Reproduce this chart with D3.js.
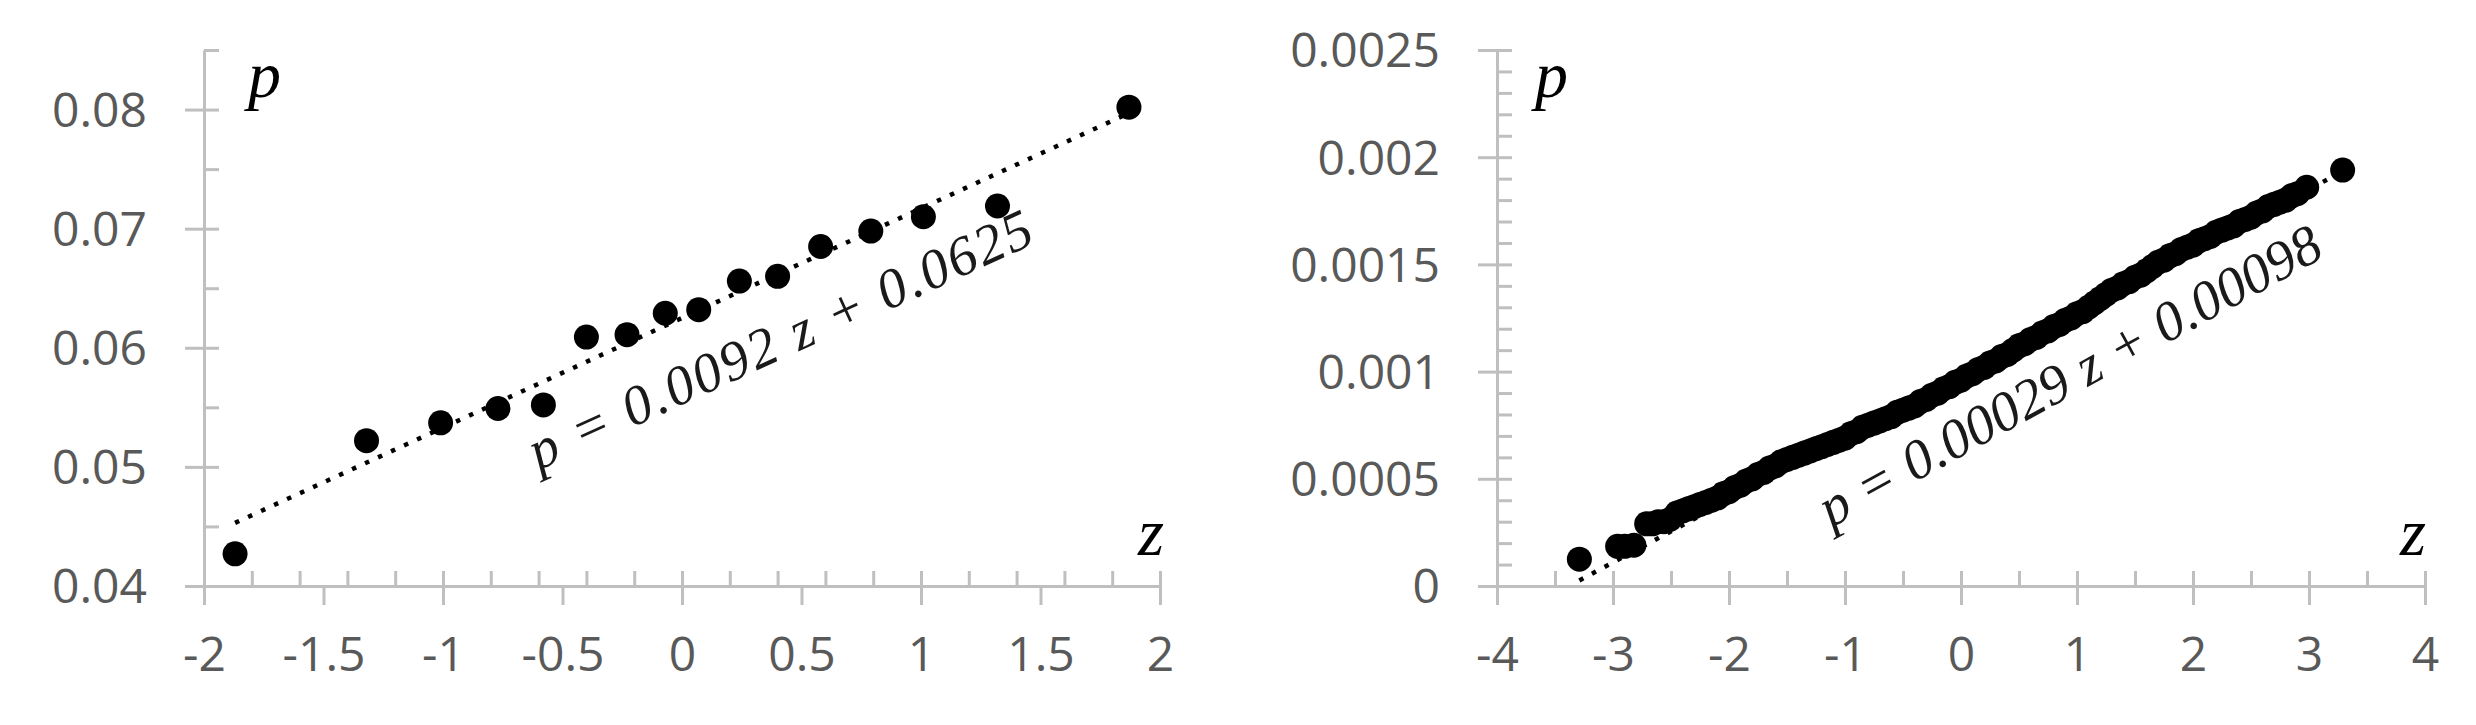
<!DOCTYPE html>
<html>
<head>
<meta charset="utf-8">
<script src="https://cdn.jsdelivr.net/npm/d3@7"></script>
<style>
  body { margin: 0; background: #ffffff; }
  svg { display: block; }
</style>
</head>
<body>
<svg id="chart"></svg>
<script>
// ---- left panel: 16 points ----
const leftZ = [-1.87, -1.32, -1.01, -0.77, -0.58, -0.40, -0.23, -0.07, 0.07, 0.24, 0.40, 0.58, 0.79, 1.01, 1.32, 1.87];
const leftP = [0.0427, 0.0522, 0.0537, 0.0549, 0.0552, 0.0609, 0.0611, 0.0629, 0.0632, 0.0656, 0.0660, 0.0685, 0.0698, 0.0710, 0.0719, 0.0802];
const leftFit = [0.0092, 0.0625]; // slope, intercept
const leftXTicks = [-2, -1.5, -1, -0.5, 0, 0.5, 1, 1.5, 2];
const leftXLabels = ["-2", "-1.5", "-1", "-0.5", "0", "0.5", "1", "1.5", "2"];
const leftYTicks = [0.04, 0.05, 0.06, 0.07, 0.08];
const leftYLabels = ["0.04", "0.05", "0.06", "0.07", "0.08"];
const leftEquation = "p = 0.0092 z + 0.0625";

// ---- right panel: many points, read along the band ----
const rightZ = [-3.29, -2.96, -2.90, -2.82, -2.71, -2.66, -2.61, -2.56, -2.51,
  -2.45, -2.40, -2.35, -2.30, -2.25, -2.20, -2.15, -2.10, -2.05, -2.00, -1.95, -1.90, -1.85, -1.80, -1.75, -1.70, -1.65, -1.60, -1.55, -1.50,
  -1.45, -1.40, -1.35, -1.30, -1.25, -1.20, -1.15, -1.10, -1.05, -1.00, -0.95, -0.90, -0.85, -0.80, -0.75, -0.70, -0.65, -0.60, -0.55, -0.50,
  -0.45, -0.40, -0.35, -0.30, -0.25, -0.20, -0.15, -0.10, -0.05, 0.00, 0.05, 0.10, 0.15, 0.20, 0.25, 0.30, 0.35, 0.40, 0.45, 0.50,
  0.55, 0.60, 0.65, 0.70, 0.75, 0.80, 0.85, 0.90, 0.95, 1.00, 1.05, 1.10, 1.15, 1.20, 1.25, 1.30, 1.35, 1.40, 1.45, 1.50,
  1.55, 1.60, 1.65, 1.70, 1.75, 1.80, 1.85, 1.90, 1.95, 2.00, 2.05, 2.10, 2.15, 2.20, 2.25, 2.30, 2.35, 2.40, 2.45, 2.50,
  2.55, 2.60, 2.65, 2.70, 2.75, 2.80, 2.85, 2.90, 2.98, 3.29];
const rightP = [0.000125, 0.000185, 0.000185, 0.00019, 0.00029, 0.00029, 0.00030, 0.00030, 0.00031,
  0.00034, 0.00035, 0.00036, 0.00037, 0.00038, 0.00039, 0.00040, 0.00041, 0.00043, 0.00044, 0.00046, 0.00047, 0.00049, 0.00050, 0.00052, 0.00053, 0.00055, 0.00056, 0.00058, 0.00059,
  0.00060, 0.00061, 0.00062, 0.00063, 0.00064, 0.00065, 0.00066, 0.00067, 0.00068, 0.00069, 0.00071, 0.00072, 0.00074, 0.00075, 0.00076, 0.00077, 0.00078, 0.00079, 0.00081, 0.00082,
  0.00083, 0.00084, 0.00086, 0.00087, 0.00089, 0.00090, 0.00092, 0.00093, 0.00095, 0.00096, 0.00098, 0.00099, 0.00101, 0.00102, 0.00104, 0.00105, 0.00107, 0.00108, 0.00110, 0.00112,
  0.00113, 0.00115, 0.00116, 0.00118, 0.00119, 0.00121, 0.00122, 0.00124, 0.00125, 0.00127, 0.00128, 0.00130, 0.00132, 0.00134, 0.00136, 0.00138, 0.00139, 0.00141, 0.00142, 0.00144,
  0.00145, 0.00147, 0.00149, 0.00151, 0.00152, 0.00154, 0.00155, 0.00157, 0.00158, 0.00159, 0.00161, 0.00162, 0.00163, 0.00165, 0.00166, 0.00167, 0.00168, 0.00170, 0.00171, 0.00172,
  0.00174, 0.00175, 0.00177, 0.00178, 0.00179, 0.00180, 0.00182, 0.00183, 0.00186, 0.00194];
const rightFit = [0.00029, 0.00098];
const rightXTicks = [-4, -3, -2, -1, 0, 1, 2, 3, 4];
const rightXLabels = ["-4", "-3", "-2", "-1", "0", "1", "2", "3", "4"];
const rightYTicks = [0, 0.0005, 0.001, 0.0015, 0.002, 0.0025];
const rightYLabels = ["0", "0.0005", "0.001", "0.0015", "0.002", "0.0025"];
const rightEquation = "p = 0.00029 z + 0.00098";

const width = 2476;
const height = 725;
const axisColor = "#bfbfbf";
const labelColor = "#595959";
const tickFont = "'Open Sans', 'Liberation Sans', sans-serif";
const mathFont = "'Liberation Serif', 'DejaVu Serif', serif";

const svg = d3.select("#chart")
    .attr("width", width)
    .attr("height", height)
    .attr("viewBox", [0, 0, width, height]);

svg.append("rect")
    .attr("width", width)
    .attr("height", height)
    .attr("fill", "#ffffff");

const drawPanel = (cfg) => {
    const x = d3.scaleLinear(cfg.xDomain, cfg.xRange);
    const y = d3.scaleLinear(cfg.yDomain, cfg.yRange);
    const g = svg.append("g");

    //minor ticks go inside, major ticks cross the axis
    const styleAxis = a => {
        a.selectAll("path, line").attr("stroke", axisColor).attr("stroke-width", 3);
        a.selectAll("text")
            .attr("fill", labelColor)
            .style("font-family", tickFont)
            .style("font-size", "48px");
    };

    g.append("g")
        .attr("transform", `translate(0,${cfg.yRange[0]})`)
        .call(d3.axisBottom(x).tickValues(x.ticks(cfg.xMinor)).tickSize(-15).tickSizeOuter(0).tickFormat(""))
        .call(styleAxis);
    g.append("g")
        .attr("transform", `translate(0,${cfg.yRange[0]})`)
        .call(d3.axisBottom(x).tickValues(cfg.xTicks).tickSize(19).tickSizeOuter(0).tickPadding(32)
            .tickFormat((d, i) => cfg.xLabels[i]))
        .call(styleAxis)
        .call(a => a.select(".domain").remove());

    g.append("g")
        .attr("transform", `translate(${cfg.xRange[0]},0)`)
        .call(d3.axisRight(y).tickValues(y.ticks(cfg.yMinor)).tickSize(15).tickSizeOuter(0).tickFormat(""))
        .call(styleAxis);
    g.append("g")
        .attr("transform", `translate(${cfg.xRange[0]},0)`)
        .call(d3.axisLeft(y).tickValues(cfg.yTicks).tickSize(19).tickSizeOuter(0).tickPadding(38)
            .tickFormat((d, i) => cfg.yLabels[i]))
        .call(styleAxis)
        .call(a => a.select(".domain").remove())
        .call(a => a.selectAll("text").attr("dy", "0.35em"));

    //points
    g.append("g")
        .selectAll("circle")
        .data(d3.range(cfg.z.length))
        .join("circle")
        .attr("cx", i => x(cfg.z[i]))
        .attr("cy", i => y(cfg.p[i]))
        .attr("r", 12.5)
        .attr("fill", "#000");

    //dotted trend line over the data range
    const z0 = d3.min(cfg.z), z1 = d3.max(cfg.z);
    const fit = z => cfg.fit[0] * z + cfg.fit[1];
    g.append("line")
        .attr("x1", x(z0)).attr("y1", y(fit(z0)))
        .attr("x2", x(z1)).attr("y2", y(fit(z1)))
        .attr("stroke", "#000")
        .attr("stroke-width", 4.5)
        .attr("stroke-dasharray", "4.5 9.8");

    //equation, rotated along the trend line
    const ex = x(cfg.eqAt[0]), ey = y(cfg.eqAt[1]);
    g.append("text")
        .attr("transform", `translate(${ex},${ey}) rotate(${cfg.eqAngle})`)
        .attr("fill", "#1a1a1a")
        .style("font-family", mathFont)
        .style("font-style", "italic")
        .style("font-size", "56px")
        .attr("textLength", cfg.eqLength)
        .attr("lengthAdjust", "spacing")
        .text(cfg.equation);

    //axis names
    g.append("text")
        .attr("x", cfg.xRange[0] + cfg.pOffset)
        .attr("y", 97)
        .style("font-family", mathFont)
        .style("font-style", "italic")
        .style("font-size", "66px")
        .attr("fill", "#000")
        .text("p");
    g.append("text")
        .attr("x", cfg.xRange[1] - cfg.zOffset)
        .attr("y", 555)
        .style("font-family", mathFont)
        .style("font-style", "italic")
        .style("font-size", "67px")
        .attr("fill", "#000")
        .text("z");
};

drawPanel({
    z: leftZ, p: leftP, fit: leftFit,
    xDomain: [-2, 2], xRange: [204, 1160],
    yDomain: [0.04, 0.085], yRange: [586, 50],
    xTicks: leftXTicks, xLabels: leftXLabels, xMinor: 16,
    yTicks: leftYTicks, yLabels: leftYLabels, yMinor: 9,
    equation: leftEquation, eqAt: [-0.6, 0.0497], eqLength: 548, eqAngle: -24.6,
    pOffset: 44, zOffset: 22
});

drawPanel({
    z: rightZ, p: rightP, fit: rightFit,
    xDomain: [-4, 4], xRange: [1497, 2425],
    yDomain: [0, 0.0025], yRange: [586, 50],
    xTicks: rightXTicks, xLabels: rightXLabels, xMinor: 16,
    yTicks: rightYTicks, yLabels: rightYLabels, yMinor: 25,
    equation: rightEquation, eqAt: [-1.12, 0.00027], eqLength: 565, eqAngle: -28.8,
    pOffset: 38, zOffset: 25
});
</script>
</body>
</html>
